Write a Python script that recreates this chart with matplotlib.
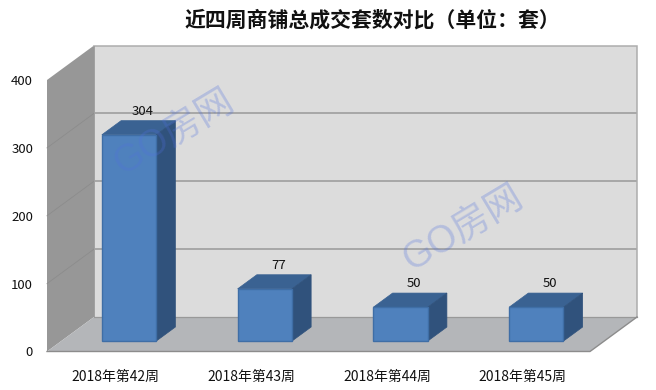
import matplotlib
matplotlib.use("Agg")
import matplotlib.pyplot as plt
from matplotlib.patches import Polygon

plt.rcParams['font.family'] = ['Noto Sans CJK SC', 'DejaVu Sans']

categories = ['2018年第42周', '2018年第43周', '2018年第44周', '2018年第45周']
values = [304, 77, 50, 50]
y_ticks = [0, 100, 200, 300, 400]
title = '近四周商铺总成交套数对比（单位：套）'
watermark = 'GO房网'

W, H = 656, 390
fig = plt.figure(figsize=(W / 100, H / 100), dpi=100, facecolor='white')
L, R, B, T = 47, 590, 351.5, 80
ax = fig.add_axes([L / W, (H - B) / H, (R - L) / W, (B - T) / H])
ax.set_xlim(-0.5, 3.5)
ax.set_ylim(0, 400)
for s in ax.spines.values():
    s.set_visible(False)
ax.patch.set_visible(False)

# oblique depth vector, in data units
DX = 47 / ((R - L) / 4)
DY = 34.5 / ((B - T) / 400)


def poly(pts, fc, ec='none', lw=0, z=1):
    ax.add_patch(Polygon(pts, closed=True, facecolor=fc, edgecolor=ec,
                         linewidth=lw, zorder=z, clip_on=False, joinstyle='miter'))


x0, x1 = ax.get_xlim()
y0, y1 = ax.get_ylim()
poly([(x0 + DX, y0 + DY), (x1 + DX, y0 + DY), (x1 + DX, y1 + DY), (x0 + DX, y1 + DY)],
     '#dcdcdc', z=1)
poly([(x0, y0), (x0 + DX, y0 + DY), (x0 + DX, y1 + DY), (x0, y1)], '#979797', z=1)
poly([(x0, y0), (x1, y0), (x1 + DX, y0 + DY), (x0 + DX, y0 + DY)], '#b4b6b9', z=1)

for v in y_ticks[1:-1]:
    ax.plot([x0 + DX, x1 + DX], [v + DY, v + DY], color='#999999', lw=1.1, zorder=2,
            clip_on=False, solid_capstyle='butt')
    ax.plot([x0, x0 + DX], [v, v + DY], color='#8c8c8c', lw=0.6, zorder=2, clip_on=False)

ax.plot([x0 + DX, x1 + DX, x1 + DX], [y1 + DY, y1 + DY, y0 + DY], color='#adadad', lw=1.1,
        zorder=2, clip_on=False, solid_joinstyle='miter')
ax.plot([x0 + DX, x0 + DX], [y0 + DY, y1 + DY], color='#a0a0a0', lw=0.7, zorder=2, clip_on=False)
ax.plot([x0 + DX, x1 + DX], [y0 + DY, y0 + DY], color='#999999', lw=0.9, zorder=2, clip_on=False)
ax.plot([x0, x1, x1 + DX], [y0, y0, y0 + DY], color='#8c8c8c', lw=1.0, zorder=2, clip_on=False)

# bars
BAR_W = 0.40
F = 0.30    # depth of bar front
D = 0.41    # bar depth
xs = list(range(len(values)))
fx, fy = F * DX, F * DY
ddx, ddy = D * DX, D * DY
ax.bar([x + fx for x in xs], values, bottom=fy, width=BAR_W, color='#4f81bd',
       edgecolor='#3f6ea6', linewidth=1.0, zorder=4, clip_on=False)
for x, v in zip(xs, values):
    l, r = x + fx - BAR_W / 2, x + fx + BAR_W / 2
    b, t = fy, fy + v
    poly([(l, t), (r, t), (r + ddx, t + ddy), (l + ddx, t + ddy)], '#3a6292', '#3a6292', 0.5, 3)
    poly([(r, b), (r + ddx, b + ddy), (r + ddx, t + ddy), (r, t)], '#30527c', '#30527c', 0.5, 3)
    ax.annotate(str(v), (x + fx + ddx / 2, t + ddy), xytext=(3.0, 2.0), textcoords='offset points',
                ha='center', va='bottom', fontsize=9.5, color='#111111', zorder=6,
                annotation_clip=False)

ax.set_xticks([x + 0.005 for x in xs], categories, fontsize=10, color='#111111')
ax.set_yticks(y_ticks, [str(v) for v in y_ticks], fontsize=9.5, color='#111111')
ax.tick_params(axis='x', length=0, pad=13)
ax.tick_params(axis='y', length=0, pad=10)

fig.text(372 / W, 1 - 20 / H, title, ha='center', va='center', fontsize=15,
         fontweight='bold', color='#111111')

for cx, cy in [(174, 133), (463, 229)]:
    fig.text(cx / W, 1 - cy / H, watermark, ha='center', va='center', rotation=31,
             rotation_mode='anchor', fontsize=27, color='#4f6fdc', alpha=0.28, zorder=10,
             family=['Liberation Sans', 'Noto Sans CJK SC'])

fig.savefig('out.png', dpi=100)
